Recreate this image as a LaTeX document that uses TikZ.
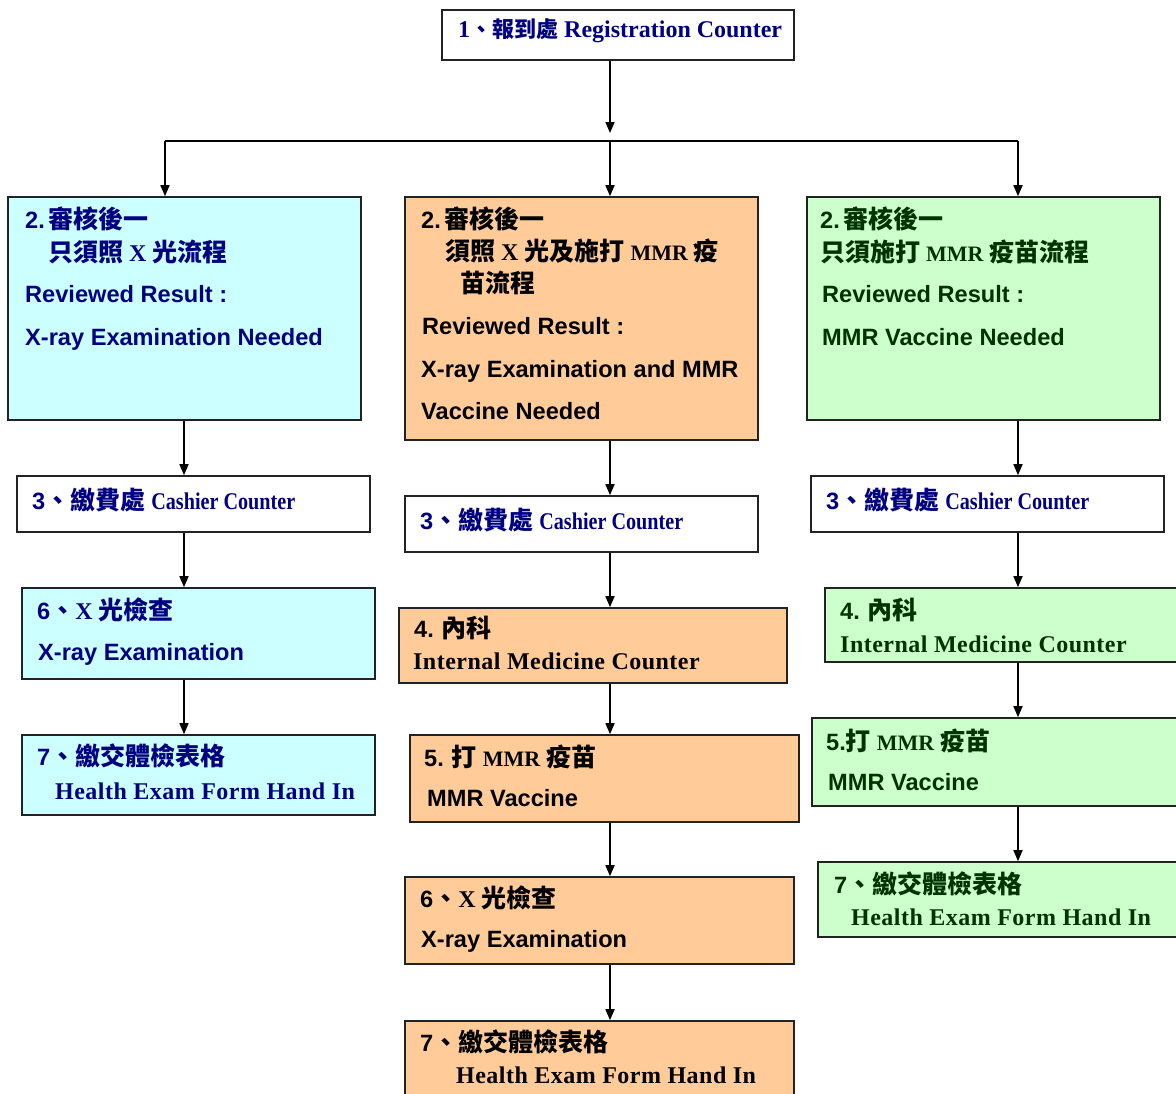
\documentclass[tikz,border=0pt]{standalone}
\usepackage{fontspec}
\usepackage{graphicx}
\setmainfont{Liberation Serif}
\newfontfamily\zhf{Noto Sans CJK TC}
\newfontfamily\snf{Liberation Sans}
\newfontfamily\srf{Liberation Serif}
\newfontfamily\srfw{Liberation Serif}[LetterSpace=2]
\usetikzlibrary{arrows.meta}
\definecolor{cyanfill}{HTML}{CCFFFF}
\definecolor{peachfill}{HTML}{FFCC99}
\definecolor{greenfill}{HTML}{CCFFCC}
\definecolor{navytxt}{HTML}{000080}
\definecolor{greentxt}{HTML}{003300}
\definecolor{edgecol}{HTML}{222222}
\newcommand\txZh[2][25]{{\zhf\bfseries\fontsize{#1}{#1}\selectfont #2}}
\newcommand\txSn[2][23.6]{{\snf\bfseries\fontsize{#1}{#1}\selectfont #2}}
\newcommand\txSr[2][24]{{\srf\bfseries\fontsize{#1}{#1}\selectfont #2}}
\newcommand\txSw[2][24]{{\srfw\bfseries\fontsize{#1}{#1}\selectfont #2}}
\newcommand\txSc[2][24]{\scalebox{0.84}[1]{\srf\bfseries\fontsize{#1}{#1}\selectfont #2}}
\tikzset{
  box/.style={draw=edgecol, line width=1.6pt, inner sep=0pt, rectangle},
  txt/.style={anchor=west, inner sep=0pt, text height=18pt, text depth=0pt, font=\fontsize{24}{24}\selectfont},
  conn/.style={draw=black, line width=1.6pt},
  arr/.style={conn, -{Triangle[length=11pt,width=9pt]}},
}
\begin{document}
\begin{tikzpicture}[x=1pt,y=-1pt]
\useasboundingbox (0,0) rectangle (1176,1093);
\clip (0,0) rectangle (1176,1093);
\fill[white] (0,0) rectangle (1176,1093);

% ---------- boxes ----------
\node[box, fill=white, minimum width=352pt, minimum height=50pt] (b1) at (618,35) {};
\node[box, fill=cyanfill, minimum width=353pt, minimum height=223pt] (b2L) at (184.5,308.5) {};
\node[box, fill=peachfill, minimum width=353pt, minimum height=243pt] (b2M) at (581.5,318.5) {};
\node[box, fill=greenfill, minimum width=353pt, minimum height=223pt] (b2R) at (983.5,308.5) {};

\node[box, fill=white, minimum width=353pt, minimum height=56pt] (b3L) at (193.5,504) {};
\node[box, fill=cyanfill, minimum width=353pt, minimum height=91pt] (b6L) at (198.5,633.5) {};
\node[box, fill=cyanfill, minimum width=353pt, minimum height=80pt] (b7L) at (198.5,775) {};

\node[box, fill=white, minimum width=353pt, minimum height=56pt] (b3M) at (581.5,524) {};
\node[box, fill=peachfill, minimum width=388pt, minimum height=75pt] (b4M) at (593,645.5) {};
\node[box, fill=peachfill, minimum width=389pt, minimum height=87pt] (b5M) at (604.5,778.5) {};
\node[box, fill=peachfill, minimum width=389pt, minimum height=87pt] (b6M) at (599.5,920.5) {};
\node[box, fill=peachfill, minimum width=389pt, minimum height=80pt] (b7M) at (599.5,1061) {};

\node[box, fill=white, minimum width=353pt, minimum height=56pt] (b3R) at (987.5,504) {};
\node[box, fill=greenfill, minimum width=388pt, minimum height=74pt] (b4R) at (1019,625) {};
\node[box, fill=greenfill, minimum width=389pt, minimum height=88pt] (b5R) at (1006.5,762) {};
\node[box, fill=greenfill, minimum width=389pt, minimum height=75pt] (b7R) at (1012.5,899.5) {};

% ---------- texts ----------
\node[txt, text=navytxt] (t1) at (458,28) {\txSr{1}\txZh[22]{、報到處} \txSr{Registration Counter}};

\node[txt, text=navytxt] (t2L1) at (25,219) {\txSn{2.}\,\txZh{審核後一}};
\node[txt, text=navytxt] (t2L2) at (48,252) {\txZh{只須照} \txSr{X} \txZh{光流程}};
\node[txt, text=navytxt] (t2L3) at (25,293) {\txSn{Reviewed Result :}};
\node[txt, text=navytxt] (t2L4) at (25,336) {\txSn{X-ray Examination Needed}};
\node[txt, text=navytxt] (t3L) at (32,500) {\txSn{3}\txZh{、繳費處} \txSc{Cashier Counter}};
\node[txt, text=navytxt] (t6L1) at (37,610) {\txSn{6}\txZh{、}\txSr{X} \txZh{光檢查}};
\node[txt, text=navytxt] (t6L2) at (38,651) {\txSn{X-ray Examination}};
\node[txt, text=navytxt] (t7L1) at (37,756) {\txSn{7}\txZh{、繳交體檢表格}};
\node[txt, text=navytxt] (t7L2) at (55,790) {\txSw{Health Exam Form Hand In}};

\node[txt] (t2M1) at (421,219) {\txSn{2.}\,\txZh{審核後一}};
\node[txt] (t2M2) at (445,251) {\txZh{須照} \txSr{X} \txZh{光及施打} \txSr[22]{MMR} \txZh{疫}};
\node[txt] (t2M3) at (460,283) {\txZh{苗流程}};
\node[txt] (t2M4) at (422,325) {\txSn{Reviewed Result :}};
\node[txt] (t2M5) at (421,368) {\txSn{X-ray Examination and MMR}};
\node[txt] (t2M6) at (421,410) {\txSn{Vaccine Needed}};
\node[txt, text=navytxt] (t3M) at (420,520) {\txSn{3}\txZh{、繳費處} \txSc{Cashier Counter}};
\node[txt] (t4M1) at (414,628) {\txSn{4.} \txZh{內科}};
\node[txt] (t4M2) at (413,660) {\txSw{Internal Medicine Counter}};
\node[txt] (t5M1) at (424,757) {\txSn{5.} \txZh{打} \txSr[22]{MMR} \txZh{疫苗}};
\node[txt] (t5M2) at (427,797) {\txSn{MMR Vaccine}};
\node[txt] (t6M1) at (420,898) {\txSn{6}\txZh{、}\txSr{X} \txZh{光檢查}};
\node[txt] (t6M2) at (421,938) {\txSn{X-ray Examination}};
\node[txt] (t7M1) at (420,1042) {\txSn{7}\txZh{、繳交體檢表格}};
\node[txt] (t7M2) at (456,1074) {\txSw{Health Exam Form Hand In}};

\node[txt, text=greentxt] (t2R1) at (820,219) {\txSn{2.}\,\txZh{審核後一}};
\node[txt, text=greentxt] (t2R2) at (820,252) {\txZh{只須施打} \txSr[22]{MMR} \txZh{疫苗流程}};
\node[txt, text=greentxt] (t2R3) at (822,293) {\txSn{Reviewed Result :}};
\node[txt, text=greentxt] (t2R4) at (822,336) {\txSn{MMR Vaccine Needed}};
\node[txt, text=navytxt] (t3R) at (826,500) {\txSn{3}\txZh{、繳費處} \txSc{Cashier Counter}};
\node[txt, text=greentxt] (t4R1) at (840,610) {\txSn{4.} \txZh{內科}};
\node[txt, text=greentxt] (t4R2) at (840,643) {\txSw{Internal Medicine Counter}};
\node[txt, text=greentxt] (t5R1) at (826,741) {\txSn{5.}\txZh{打} \txSr[22]{MMR} \txZh{疫苗}};
\node[txt, text=greentxt] (t5R2) at (828,781) {\txSn{MMR Vaccine}};
\node[txt, text=greentxt] (t7R1) at (834,884) {\txSn{7}\txZh{、繳交體檢表格}};
\node[txt, text=greentxt] (t7R2) at (851,916) {\txSw{Health Exam Form Hand In}};

% ---------- connectors ----------
\coordinate (cL) at (184,0);
\coordinate (cM) at (610,0);
\coordinate (cR) at (1018,0);
\coordinate (jTip) at (610,133);
\coordinate (jL) at (165,141);
\coordinate (jM) at (610,141);
\coordinate (jR) at (1018,141);

\draw[arr] (b1.south -| cM) -- (jTip);
\draw[conn] (jL) -- (jR);
\draw[arr] (jL) -- (jL |- b2L.north);
\draw[arr] (jM) -- (jM |- b2M.north);
\draw[arr] (jR) -- (jR |- b2R.north);

\draw[arr] (b2L.south -| cL) -- (b3L.north -| cL);
\draw[arr] (b3L.south -| cL) -- (b6L.north -| cL);
\draw[arr] (b6L.south -| cL) -- (b7L.north -| cL);

\draw[arr] (b2M.south -| cM) -- (b3M.north -| cM);
\draw[arr] (b3M.south -| cM) -- (b4M.north -| cM);
\draw[arr] (b4M.south -| cM) -- (b5M.north -| cM);
\draw[arr] (b5M.south -| cM) -- (b6M.north -| cM);
\draw[arr] (b6M.south -| cM) -- (b7M.north -| cM);

\draw[arr] (b2R.south -| cR) -- (b3R.north -| cR);
\draw[arr] (b3R.south -| cR) -- (b4R.north -| cR);
\draw[arr] (b4R.south -| cR) -- (b5R.north -| cR);
\draw[arr] (b5R.south -| cR) -- (b7R.north -| cR);
\end{tikzpicture}
\end{document}
